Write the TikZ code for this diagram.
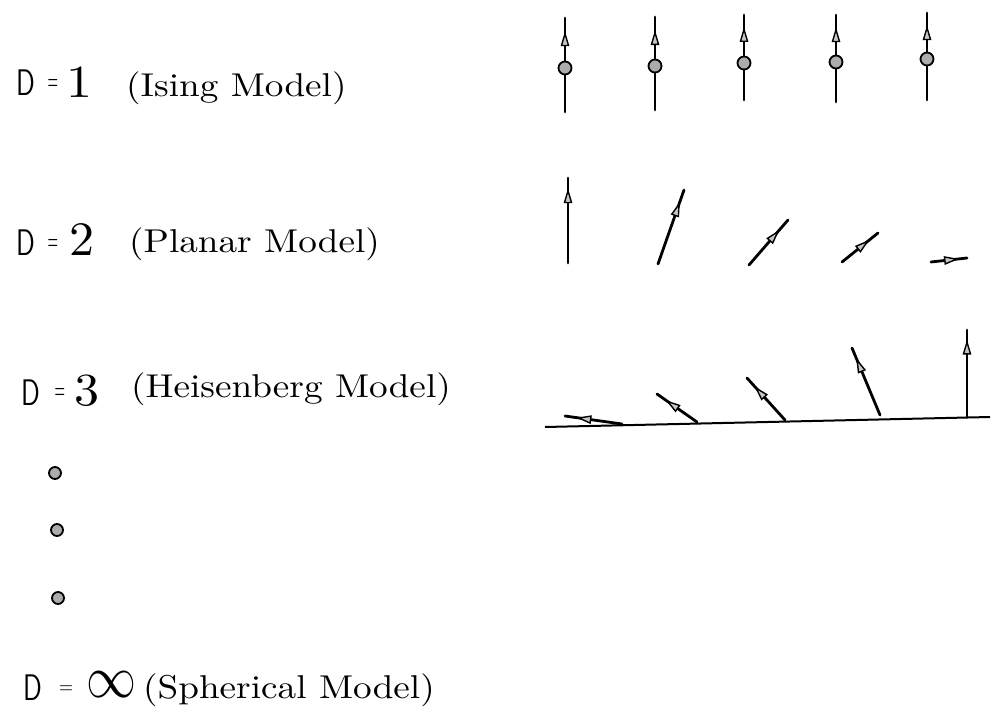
\documentclass[tikz,border=0pt]{standalone}
\usepackage{fontspec}
\usetikzlibrary{arrows.meta,decorations.markings}
\begin{document}
\begin{tikzpicture}[x=1pt,y=-1pt,
  txt/.style={anchor=base west, inner sep=0pt, font=\fontsize{10}{12}\selectfont},
  spin/.style={line width=2.8pt, line cap=round, postaction={decorate},
    decoration={markings, mark=at position #1 with {\arrow{Triangle[length=15pt, width=8.5pt, line width=1.4pt, fill=gray!45]}}}},
  dot/.style={circle, draw, line width=1.8pt, fill=gray!65, minimum size=13pt, inner sep=0pt},
  base/.style={line width=2pt}]
\useasboundingbox (0,0) rectangle (996,720);
\fill[white] (0,0) rectangle (996,720);

% ---- labels ----
\node[txt] (d1) at (16,95)   {\scalebox{2.6}[3.7]{\sffamily D}};
\node[txt] (e1) at (47.3,90) {\scalebox{1.35}[3.0]{=}};
\node[txt] (n1) at (66,97)   {\scalebox{5.2}[4.6]{1}};
\node[txt] (m1) at (126,96)  {\scalebox{3.72}[3.3]{(Ising Model)}};

\node[txt] (d2) at (16,255)   {\scalebox{2.6}[3.7]{\sffamily D}};
\node[txt] (e2) at (47.3,250) {\scalebox{1.35}[3.0]{=}};
\node[txt] (n2) at (69.5,255) {\scalebox{5}[4.8]{2}};
\node[txt] (m2) at (129,252)  {\scalebox{3.72}[3.3]{(Planar Model)}};

\node[txt] (d3) at (21,405)    {\scalebox{2.6}[3.7]{\sffamily D}};
\node[txt] (e3) at (54.3,399.5){\scalebox{1.35}[3.0]{=}};
\node[txt] (n3) at (74.5,405)  {\scalebox{5}[4.6]{3}};
\node[txt] (m3) at (131,397)   {\scalebox{3.72}[3.3]{(Heisenberg Model)}};

\node[dot, minimum size=12pt] (v1) at (55,473) {};
\node[dot, minimum size=12pt] (v2) at (57,530) {};
\node[dot, minimum size=12pt] (v3) at (58,598) {};

\node[txt] (d4) at (23,700)  {\scalebox{2.6}[3.7]{\sffamily D}};
\node[txt] (e4) at (59,693.3){\scalebox{1.8}[2.1]{=}};
\node[txt] (n4) at (86,697)  {\scalebox{5.0}[6.0]{$\infty$}};
\node[txt] (m4) at (143,698) {\scalebox{3.72}[3.3]{(Spherical Model)}};

% ---- D=1 spins ----
\foreach \i/\x/\b/\t/\c in {1/565/112/18/68, 2/655/110/17/66, 3/744/100/15/63, 4/836/102/15/62, 5/927/100/13/59}{
  \coordinate (a\i b) at (\x,\b);
  \coordinate (a\i t) at (\x,\t);
  \draw[spin=0.86] (a\i b) -- (a\i t);
  \node[dot] (a\i c) at (\x,\c) {};
}

% ---- D=2 spins ----
\coordinate (p1b) at (568,263); \coordinate (p1t) at (568,178);
\coordinate (p2b) at (658,264); \coordinate (p2t) at (684,190);
\coordinate (p3b) at (749,265); \coordinate (p3t) at (788,220);
\coordinate (p4b) at (842,262); \coordinate (p4t) at (878,233);
\coordinate (p5b) at (931,262); \coordinate (p5t) at (967,258);
\draw[spin=0.88] (p1b) -- (p1t);
\draw[spin=0.84] (p2b) -- (p2t);
\draw[spin=0.78] (p3b) -- (p3t);
\draw[spin=0.76] (p4b) -- (p4t);
\draw[spin=0.78] (p5b) -- (p5t);

% ---- D=3 spins ----
\coordinate (hl) at (545,427); \coordinate (hr) at (990,417);
\draw[base] (hl) -- (hr);
\coordinate (h1b) at (622,424); \coordinate (h1t) at (565,416);
\coordinate (h2b) at (697,422); \coordinate (h2t) at (657,394);
\coordinate (h3b) at (785,420); \coordinate (h3t) at (747,378);
\coordinate (h4b) at (880,415); \coordinate (h4t) at (852,348);
\coordinate (h5b) at (967,417); \coordinate (h5t) at (967,330);
\draw[spin=0.80] (h1b) -- (h1t);
\draw[spin=0.78] (h2b) -- (h2t);
\draw[spin=0.80] (h3b) -- (h3t);
\draw[spin=0.85] (h4b) -- (h4t);
\draw[spin=0.89] (h5b) -- (h5t);
\end{tikzpicture}
\end{document}
